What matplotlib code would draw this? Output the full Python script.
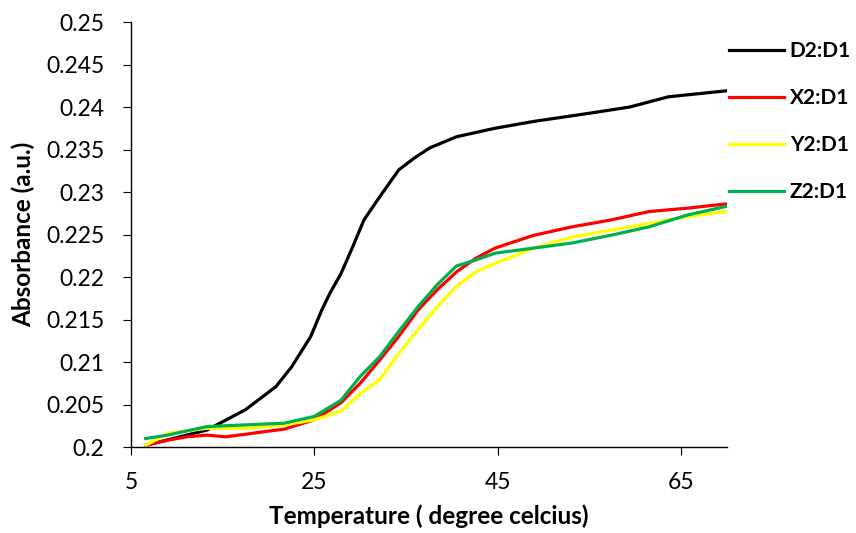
import matplotlib
matplotlib.use("Agg")
import matplotlib.pyplot as plt

plt.rcParams['font.family'] = ['Lato', 'DejaVu Sans']

# temperature (degree celcius) and absorbance values
t_d2 = [6.6, 13.3, 17.5, 20.8, 22.5, 24.6, 25.8, 26.7, 27.9, 29.2, 30.4, 32.1,
        34.2, 35.9, 37.6, 40.5, 44.7, 48.9, 55.2, 59.4, 63.6, 69.9]
a_d2 = [0.2002, 0.2020, 0.2044, 0.2071, 0.2094, 0.2130, 0.2161, 0.2181, 0.2204,
        0.2236, 0.2267, 0.2294, 0.2326, 0.2340, 0.2352, 0.2365, 0.2375, 0.2383,
        0.2393, 0.2400, 0.2412, 0.2419]

t_xyz = [6.6, 9.0, 11.1, 13.3, 15.3, 17.5, 19.5, 21.7, 25.0, 27.9, 30.0, 32.1,
         34.2, 36.3, 38.4, 40.5, 42.6, 44.7, 48.9, 53.1, 57.3, 61.5, 65.7, 69.9]
a_x2 = [0.2002, 0.2008, 0.2012, 0.2014, 0.2012, 0.2015, 0.2018, 0.2021, 0.2032,
        0.2052, 0.2075, 0.2102, 0.2130, 0.2161, 0.2185, 0.2206, 0.2222, 0.2234,
        0.2249, 0.2259, 0.2267, 0.2277, 0.2281, 0.2286]
a_y2 = [0.2002, 0.2016, 0.2019, 0.2022, 0.2022, 0.2022, 0.2024, 0.2026, 0.2032,
        0.2042, 0.2063, 0.2079, 0.2110, 0.2138, 0.2165, 0.2189, 0.2206, 0.2216,
        0.2234, 0.2247, 0.2255, 0.2263, 0.2271, 0.2277]
a_z2 = [0.2010, 0.2014, 0.2019, 0.2024, 0.2025, 0.2026, 0.2027, 0.2028, 0.2036,
        0.2055, 0.2083, 0.2106, 0.2136, 0.2165, 0.2191, 0.2213, 0.2220, 0.2228,
        0.2234, 0.2240, 0.2249, 0.2259, 0.2273, 0.2283]

labels = ['D2:D1', 'X2:D1', 'Y2:D1', 'Z2:D1']
colors = ['#000000', '#ff0000', '#ffff00', '#00b050']

x_ticks = [5, 25, 45, 65]
y_ticks = [0.2, 0.205, 0.21, 0.215, 0.22, 0.225, 0.23, 0.235, 0.24, 0.245, 0.25]

fig = plt.figure(figsize=(8.56, 5.33), dpi=100)
ax = fig.add_axes([131 / 856, 86 / 533, 596 / 856, 425 / 533])

ax.plot(t_d2, a_d2, color=colors[0], lw=2.3, label=labels[0])
ax.plot(t_xyz, a_x2, color=colors[1], lw=2.3, label=labels[1])
ax.plot(t_xyz, a_y2, color=colors[2], lw=2.3, label=labels[2])
ax.plot(t_xyz, a_z2, color=colors[3], lw=2.3, label=labels[3])

ax.set_xlim(5, 70)
ax.set_ylim(0.2, 0.25)
ax.set_xticks(x_ticks)
ax.set_xticklabels([str(v) for v in x_ticks])
ax.set_yticks(y_ticks)
ax.set_yticklabels(['%g' % v for v in y_ticks])
ax.tick_params(labelsize=16.5, direction='out', length=6, color='black')
ax.tick_params(axis='y', pad=13)
ax.tick_params(axis='x', pad=12)

for side in ['top', 'right']:
    ax.spines[side].set_visible(False)
for side in ['left', 'bottom']:
    ax.spines[side].set_color('black')
    ax.spines[side].set_linewidth(1)

ax.set_xlabel('Temperature ( degree celcius)', fontsize=17.5, fontweight='bold')
ax.set_ylabel('Absorbance (a.u.)', fontsize=17.5, fontweight='bold')
ax.xaxis.set_label_coords(0.5, -0.135)
ax.yaxis.set_label_coords(-0.16, 0.5)

leg = ax.legend(loc='upper left', bbox_to_anchor=(0.99, 0.975), frameon=False,
                fontsize=15, handlelength=2.6, handletextpad=0.3,
                labelspacing=1.3, borderaxespad=0)
for txt in leg.get_texts():
    txt.set_fontweight('bold')

fig.savefig('out.png', dpi=100)
